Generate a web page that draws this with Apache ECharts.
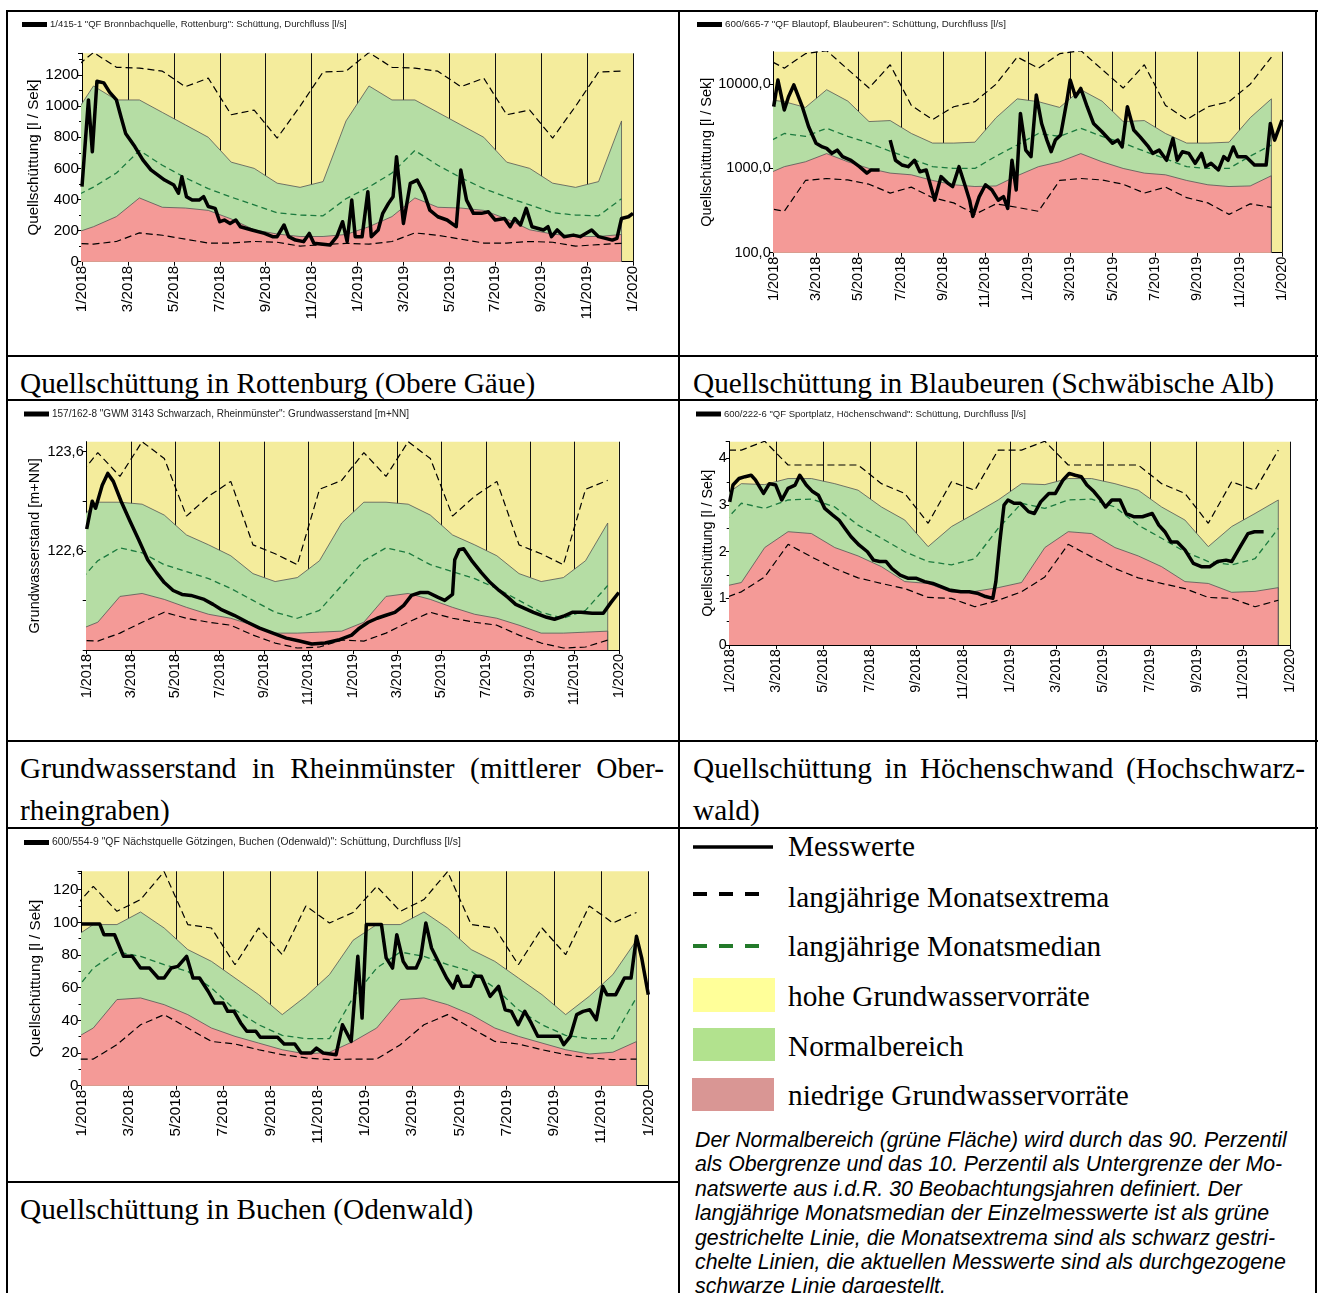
<!DOCTYPE html>
<html>
<head>
<meta charset="utf-8">
<script src="https://cdn.jsdelivr.net/npm/echarts@6.0.0/dist/echarts.min.js"></script>
<style>
  html, body { margin: 0; padding: 0; background: #fff; }
  body { width: 1319px; height: 1293px; position: relative; overflow: hidden; }
  .ln { position: absolute; background: #000; }
  .cap { position: absolute; font-family: "Liberation Serif", "Times New Roman", serif; font-size: 29.3px; color: #000; white-space: nowrap; }
  .just { text-align: justify; text-align-last: justify; white-space: normal; }
  .lg { position: absolute; font-family: "Liberation Serif", "Times New Roman", serif; font-size: 29.3px; color: #000; white-space: nowrap; line-height: 34px; }
  .box { position: absolute; }
  #note { position: absolute; left: 695px; top: 1128px; width: 620px; font-family: "Liberation Sans", Arial, sans-serif; font-style: italic; font-size: 21.3px; line-height: 24.4px; color: #000; white-space: nowrap; }
  #chart { position: absolute; left: 0; top: 0; width: 1319px; height: 1293px; z-index: 2; }
</style>
</head>
<body>
<!-- table frame -->
<div class="ln" style="left:6px;top:10px;width:1312px;height:2px"></div>
<div class="ln" style="left:6px;top:10px;width:2px;height:1283px"></div>
<div class="ln" style="left:1315px;top:10px;width:2px;height:1283px"></div>
<div class="ln" style="left:678px;top:10px;width:2px;height:1283px"></div>
<div class="ln" style="left:6px;top:355px;width:1312px;height:2px"></div>
<div class="ln" style="left:6px;top:399px;width:1312px;height:2px"></div>
<div class="ln" style="left:6px;top:740px;width:1312px;height:2px"></div>
<div class="ln" style="left:6px;top:827px;width:1312px;height:2px"></div>
<div class="ln" style="left:6px;top:1181px;width:674px;height:2px"></div>

<!-- captions -->
<div class="cap" style="left:20px;top:366px;line-height:34px">Quellschüttung in Rottenburg (Obere Gäue)</div>
<div class="cap" style="left:693px;top:366px;line-height:34px">Quellschüttung in Blaubeuren (Schwäbische Alb)</div>
<div class="cap" style="left:20px;top:747px;width:644px;line-height:42px">
  <div class="just">Grundwasserstand in Rheinmünster (mittlerer Ober-</div>
  <div>rheingraben)</div>
</div>
<div class="cap" style="left:693px;top:747px;width:612px;line-height:42px">
  <div class="just">Quellschüttung in Höchenschwand (Hochschwarz-</div>
  <div>wald)</div>
</div>
<div class="cap" style="left:20px;top:1192px;line-height:34px">Quellschüttung in Buchen (Odenwald)</div>

<!-- legend -->
<svg class="box" style="left:690px;top:835px" width="90" height="120">
  <line x1="3" y1="12" x2="83" y2="12" stroke="#000" stroke-width="3.5"/>
  <line x1="3" y1="59" x2="77" y2="59" stroke="#000" stroke-width="4" stroke-dasharray="14 12"/>
  <line x1="3" y1="111" x2="77" y2="111" stroke="#237a2a" stroke-width="4" stroke-dasharray="14 12"/>
</svg>
<div class="lg" style="left:788px;top:829px">Messwerte</div>
<div class="lg" style="left:788px;top:880px">langjährige Monatsextrema</div>
<div class="lg" style="left:788px;top:929px">langjährige Monatsmedian</div>
<div class="box" style="left:693px;top:978px;width:82px;height:34px;background:#ffff99"></div>
<div class="lg" style="left:788px;top:979px">hohe Grundwasservorräte</div>
<div class="box" style="left:693px;top:1028px;width:82px;height:33px;background:#b2e28e"></div>
<div class="lg" style="left:788px;top:1029px">Normalbereich</div>
<div class="box" style="left:692px;top:1078px;width:82px;height:33px;background:#d99694"></div>
<div class="lg" style="left:788px;top:1078px">niedrige Grundwasservorräte</div>

<div id="note">Der Normalbereich (grüne Fläche) wird durch das 90. Perzentil<br>als Obergrenze und das 10. Perzentil als Untergrenze der Mo-<br>natswerte aus i.d.R. 30 Beobachtungsjahren definiert. Der<br>langjährige Monatsmedian der Einzelmesswerte ist als grüne<br>gestrichelte Linie, die Monatsextrema sind als schwarz gestri-<br>chelte Linien, die aktuellen Messwerte sind als durchgezogene<br>schwarze Linie dargestellt.</div>

<div id="chart"></div>

<script>
// long-term monthly statistics (Jan..Dec), repeated for 2018 and 2019
// x values of measurements are months since 1/2018
let rotP90 = [1130, 1040, 1040, 960, 880, 800, 640, 600, 505, 478, 515, 905];
let rotP10 = [225, 290, 410, 350, 345, 330, 275, 205, 178, 162, 162, 175];
let rotMed = [480, 570, 715, 620, 540, 470, 415, 365, 315, 300, 295, 405];
let rotMax = [1345, 1250, 1245, 1225, 1125, 1180, 945, 975, 795, 1000, 1220, 1225];
let rotMin = [113, 130, 185, 170, 145, 120, 120, 130, 125, 100, 110, 118];
let rotMess = [[0, 482], [0.28, 1040], [0.45, 707], [0.65, 1160], [0.95, 1150], [1.2, 1090], [1.5, 1040], [1.7, 930], [1.9, 825],
    [2.3, 740], [2.65, 655], [3.0, 590], [3.6, 525], [4.0, 493], [4.2, 440], [4.35, 546], [4.55, 418], [4.8, 396], [5.1, 396],
    [5.3, 418], [5.5, 355], [5.8, 343], [6.0, 257], [6.2, 268], [6.45, 246], [6.7, 268], [6.9, 225], [7.4, 204], [7.95, 182],
    [8.3, 161], [8.5, 161], [8.8, 236], [9.0, 161], [9.3, 139], [9.65, 129], [9.9, 182], [10.1, 118], [10.8, 107], [11.1, 161],
    [11.35, 257], [11.55, 129], [11.75, 396], [11.9, 161], [12.2, 161], [12.45, 450], [12.6, 161], [12.9, 204], [13.1, 311],
    [13.35, 375], [13.55, 418], [13.7, 675], [14.0, 246], [14.3, 504], [14.6, 525], [14.9, 439], [15.15, 332], [15.5, 289],
    [15.9, 268], [16.3, 225], [16.5, 589], [16.75, 396], [17.05, 311], [17.4, 311], [17.7, 321], [18.0, 268], [18.4, 278],
    [18.65, 225], [18.85, 278], [19.1, 236], [19.35, 343], [19.6, 225], [20.1, 204], [20.3, 225], [20.45, 161], [20.7, 204],
    [21.0, 161], [21.4, 171], [21.7, 161], [22.2, 204], [22.5, 161], [23.1, 139], [23.3, 150], [23.5, 278], [23.8, 289], [24.0, 311]];

let blaP90 = [6200, 5300, 8600, 6300, 3600, 3700, 2600, 2000, 2000, 2050, 4000, 6700];
let blaP10 = [1050, 1200, 1500, 1200, 1000, 880, 840, 720, 640, 610, 620, 820];
let blaMed = [2600, 2400, 3000, 2400, 2000, 1600, 1300, 1050, 1000, 1000, 1400, 1900];
let blaMax = [15500, 23000, 25000, 15000, 9000, 17000, 5600, 3800, 5400, 6200, 10000, 21000];
let blaMin = [310, 720, 760, 730, 650, 510, 600, 450, 390, 285, 380, 345];
let blaMess = [[0, 5420], [0.2, 11200], [0.5, 4950], [0.7, 7100], [0.95, 9800], [1.35, 5400], [1.65, 3130], [2.0, 1990],
    [2.3, 1800], [2.5, 1730], [2.75, 1510], [3.0, 1650], [3.25, 1380], [3.65, 1250], [4.05, 1050], [4.4, 880], [4.6, 960],
    [5.0, 960], [5.2, null], [5.5, 2170], [5.75, 1250], [6.05, 1100], [6.35, 1050], [6.65, 1250], [6.9, 915], [7.2, 960],
    [7.6, 420], [7.9, 800], [8.25, 660], [8.45, 610], [8.75, 1050], [9.05, 610], [9.25, 420], [9.4, 270], [9.7, 460],
    [10.0, 640], [10.3, 556], [10.6, 420], [10.85, 463], [11.05, 336], [11.25, 1250], [11.45, 556], [11.65, 4500],
    [11.9, 1650], [12.15, 1380], [12.4, 7450], [12.65, 3420], [12.9, 2170], [13.1, 1580], [13.3, 2170], [13.55, 2490],
    [13.85, 6490], [14.0, 11200], [14.25, 7100], [14.5, 8900], [14.8, 5400], [15.1, 3420], [15.5, 2730], [16.0, 1990],
    [16.25, 2170], [16.45, 1800], [16.7, 5400], [17.0, 2860], [17.3, 2370], [17.7, 1800], [17.9, 1510], [18.2, 1650],
    [18.55, 1250], [18.85, 2270], [19.05, 1250], [19.3, 1580], [19.6, 1510], [19.9, 1150], [20.2, 1510], [20.4, 1050],
    [20.65, 1150], [21.0, 960], [21.25, 1380], [21.45, 1250], [21.7, 1800], [21.9, 1380], [22.3, 1380], [22.7, 1100],
    [23.25, 1100], [23.45, 3420], [23.65, 2170], [24.0, 3760]];

let rhP90 = [123.09, 123.09, 123.07, 122.96, 122.76, 122.66, 122.55, 122.37, 122.29, 122.33, 122.50, 122.88];
let rhP10 = [121.88, 122.14, 122.17, 122.11, 122.03, 121.96, 121.92, 121.85, 121.77, 121.77, 121.78, 121.79];
let rhMed = [122.50, 122.63, 122.58, 122.46, 122.39, 122.32, 122.22, 122.10, 121.98, 121.92, 122.00, 122.25];
let rhMax = [123.59, 123.35, 123.70, 123.53, 122.95, 123.15, 123.30, 122.66, 122.57, 122.46, 123.22, 123.31];
let rhMin = [121.69, 121.77, 121.88, 121.98, 121.92, 121.88, 121.85, 121.75, 121.67, 121.62, 121.63, 121.70];
let rhMess = [[0, 122.82], [0.25, 123.10], [0.4, 123.03], [0.7, 123.26], [0.95, 123.38], [1.2, 123.30], [1.55, 123.10],
    [1.95, 122.90], [2.35, 122.71], [2.75, 122.51], [3.15, 122.38], [3.5, 122.28], [3.9, 122.20], [4.3, 122.16],
    [4.7, 122.15], [5.3, 122.11], [5.7, 122.06], [6.05, 122.01], [6.65, 121.95], [7.25, 121.88], [7.8, 121.82],
    [8.4, 121.77], [9.0, 121.72], [9.6, 121.69], [10.15, 121.66], [10.75, 121.67], [11.35, 121.70], [11.95, 121.75],
    [12.3, 121.82], [12.7, 121.88], [13.1, 121.92], [13.5, 121.95], [13.9, 121.98], [14.3, 122.05], [14.65, 122.15],
    [15.05, 122.18], [15.4, 122.18], [15.85, 122.13], [16.15, 122.10], [16.5, 122.16], [16.6, 122.51], [16.8, 122.61],
    [17.0, 122.62], [17.4, 122.49], [17.8, 122.38], [18.2, 122.28], [18.6, 122.20], [19.0, 122.13], [19.35, 122.06],
    [19.75, 122.02], [20.15, 121.98], [20.75, 121.93], [21.1, 121.91], [21.5, 121.94], [21.9, 121.98], [22.3, 121.98],
    [22.8, 121.97], [23.3, 121.97], [23.65, 122.08], [24.0, 122.18]];

let hoP90 = [3.46, 3.44, 3.57, 3.57, 3.46, 3.32, 2.96, 2.68, 2.11, 2.54, 2.82, 3.11];
let hoP10 = [1.34, 2.09, 2.43, 2.39, 2.09, 1.91, 1.68, 1.36, 1.32, 1.13, 1.15, 1.23];
let hoMed = [3.04, 2.93, 3.11, 3.13, 2.96, 2.57, 2.29, 2.00, 1.79, 1.72, 1.85, 2.50];
let hoMax = [4.18, 4.37, 3.86, 3.86, 3.86, 3.86, 3.46, 3.25, 2.61, 3.50, 3.32, 4.18];
let hoMin = [1.14, 1.46, 2.16, 1.89, 1.64, 1.44, 1.32, 1.21, 1.02, 1.00, 0.82, 0.96];
let hoMess = [[0, 3.07], [0.14, 3.43], [0.4, 3.57], [0.66, 3.61], [0.92, 3.64], [1.1, 3.54], [1.45, 3.25], [1.7, 3.46],
    [1.97, 3.43], [2.23, 3.11], [2.5, 3.36], [2.8, 3.43], [3.0, 3.64], [3.28, 3.43], [3.55, 3.29], [3.8, 3.21], [4.07, 2.93],
    [4.4, 2.79], [4.68, 2.68], [4.94, 2.5], [5.2, 2.32], [5.55, 2.14], [5.9, 2.0], [6.16, 1.82], [6.42, 1.79], [6.7, 1.79],
    [6.95, 1.64], [7.3, 1.5], [7.65, 1.43], [8.0, 1.43], [8.35, 1.36], [8.7, 1.32], [9.05, 1.25], [9.4, 1.18], [9.9, 1.14],
    [10.26, 1.14], [10.6, 1.11], [10.96, 1.04], [11.27, 1.0], [11.4, 1.36], [11.57, 2.21], [11.75, 3.0], [11.92, 3.11],
    [12.18, 3.04], [12.45, 3.04], [12.8, 2.86], [13.05, 2.82], [13.32, 3.07], [13.67, 3.25], [13.95, 3.25], [14.28, 3.54],
    [14.54, 3.68], [14.8, 3.64], [15.06, 3.61], [15.3, 3.43], [15.6, 3.29], [15.85, 3.14], [16.1, 2.96], [16.37, 3.11],
    [16.72, 3.11], [16.98, 2.82], [17.33, 2.75], [17.68, 2.75], [18.1, 2.82], [18.38, 2.57], [18.64, 2.43], [18.9, 2.21],
    [19.17, 2.21], [19.5, 2.04], [19.86, 1.75], [20.2, 1.68], [20.56, 1.68], [20.9, 1.79], [21.26, 1.82], [21.5, 1.79],
    [21.87, 2.11], [22.2, 2.39], [22.48, 2.43], [22.87, 2.43]];

let buP90 = [98.6, 98.6, 106.3, 96.5, 83.3, 76.1, 65.9, 55.7, 43.5, 54.7, 68.0, 89.0];
let buP10 = [35.3, 52.7, 53.7, 49.6, 43.5, 35.3, 30.2, 26.1, 22.0, 19.4, 20.5, 27.0];
let buMed = [72.0, 81.8, 79.2, 74.1, 70.0, 59.8, 46.5, 37.3, 30.8, 28.8, 28.8, 54.0];
let buMax = [122.0, 106.7, 113.9, 131.0, 98.6, 96.5, 74.0, 96.5, 80.2, 110.0, 99.6, 106.0];
let buMin = [16.3, 25.1, 37.3, 43.5, 35.3, 27.1, 25.5, 22.0, 19.0, 17.0, 16.0, 16.3];
let buMess = [[0, 99], [0.77, 99], [0.95, 92.4], [1.4, 92.4], [1.78, 79.2], [2.15, 79.2], [2.5, 72], [2.88, 72], [3.25, 65.9],
    [3.5, 65.9], [3.8, 72], [4.08, 73], [4.45, 79.2], [4.72, 65.9], [5.0, 65.9], [5.36, 57.8], [5.64, 50.6], [6.0, 50.6],
    [6.19, 45.5], [6.46, 45.5], [6.74, 38.4], [7.0, 33.3], [7.38, 33.3], [7.57, 29.6], [8.3, 29.6], [8.58, 25.5], [9.03, 25.5],
    [9.3, 20], [9.73, 20], [9.95, 23], [10.23, 20], [10.78, 19], [11.05, 37.3], [11.42, 27.1], [11.7, 79.2], [11.88, 41.4],
    [12.06, 98.6], [12.7, 98.6], [12.9, 78.2], [13.17, 72], [13.35, 92.4], [13.62, 76.1], [13.8, 72], [14.17, 72],
    [14.36, 78.2], [14.58, 99.6], [14.82, 84.3], [15.1, 76.1], [15.46, 65.9], [15.74, 59.8], [15.92, 67], [16.1, 60.8],
    [16.47, 60.8], [16.65, 67], [16.93, 67], [17.3, 54.7], [17.66, 60.8], [17.94, 46.5], [18.2, 45.5], [18.49, 37.3],
    [18.77, 45.5], [19.04, 38.4], [19.32, 30.2], [19.78, 30.2], [20.24, 30.2], [20.42, 25.1], [20.7, 30.2], [20.97, 43.5],
    [21.24, 45.5], [21.52, 46.5], [21.8, 40.4], [22.07, 60.8], [22.25, 55.7], [22.62, 55.7], [22.99, 65.9], [23.27, 65.9],
    [23.5, 91.4], [23.72, 78.2], [24.0, 55.7]];

// labelled y values for the Rheinmünster chart
let rhLabels = [122.6, 123.6];

const FONT = "'Liberation Sans', Arial, sans-serif";
const YELLOW = "#f4ec9c", GREEN = "#b5dda4", RED = "#f49a97";

function monthLabel(v) {
    return ((v % 12) + 1) + "/" + (2018 + Math.floor(v / 12));
}

// Dec of the previous year, then Jan..Dec twice, at mid-month
function band(arr, bottom) {
    let out = [[-0.5, arr[11]]];
    for (let y = 0; y < 2; y++) {
        arr.forEach((v, i) => out.push([y * 12 + i + 0.5, v]));
    }
    if (bottom !== undefined) out.push([23.5, bottom]);
    return out;
}

let charts = [
    {
        name: '1/415-1 "QF Bronnbachquelle, Rottenburg": Schüttung, Durchfluss [l/s]',
        grid: {left: 82, top: 53.3, width: 551, height: 208.4},
        legend: {left: 22, top: 19.5, fs: 9.5},
        y: {min: 0, max: 1340, interval: 200, name: "Quellschüttung [l / Sek]", gap: 39.5, fs: 15.2},
        p90: rotP90, p10: rotP10, med: rotMed, max: rotMax, min: rotMin, mess: rotMess
    },
    {
        name: '600/665-7 "QF Blautopf, Blaubeuren": Schüttung, Durchfluss [l/s]',
        grid: {left: 773.7, top: 51.7, width: 508.3, height: 201},
        legend: {left: 697, top: 19.5, fs: 9.8},
        y: {log: true, min: 100, max: 24300, name: "Quellschüttung [l / Sek]", gap: 58.5, fs: 14.5},
        p90: blaP90, p10: blaP10, med: blaMed, max: blaMax, min: blaMin, mess: blaMess
    },
    {
        name: '157/162-8 "GWM 3143 Schwarzach, Rheinmünster": Grundwasserstand [m+NN]',
        grid: {left: 86.7, top: 441.7, width: 532.1, height: 208.3},
        legend: {left: 24, top: 409, fs: 10},
        y: {min: 121.6, max: 123.7, interval: 0.5, only: rhLabels, name: "Grundwasserstand [m+NN]", gap: 44.5, fs: 14.5},
        p90: rhP90, p10: rhP10, med: rhMed, max: rhMax, min: rhMin, mess: rhMess
    },
    {
        name: '600/222-6 "QF Sportplatz, Höchenschwand": Schüttung, Durchfluss [l/s]',
        grid: {left: 729.7, top: 441.7, width: 560.3, height: 203.3},
        legend: {left: 696, top: 409, fs: 9.5},
        y: {min: 0, max: 4.36, interval: 1, name: "Quellschüttung [l / Sek]", gap: 14.5, fs: 14.3},
        p90: hoP90, p10: hoP10, med: hoMed, max: hoMax, min: hoMin, mess: hoMess
    },
    {
        name: '600/554-9 "QF Nächstquelle Götzingen, Buchen (Odenwald)": Schüttung, Durchfluss [l/s]',
        grid: {left: 81.5, top: 871.3, width: 566.8, height: 214.4},
        legend: {left: 24, top: 837.5, fs: 10.4},
        y: {min: 0, max: 131.2, interval: 20, name: "Quellschüttung [l / Sek]", gap: 38, fs: 15.3},
        p90: buP90, p10: buP10, med: buMed, max: buMax, min: buMin, mess: buMess
    }
];

let option = {
    animation: false,
    grid: [], xAxis: [], yAxis: [], legend: [], series: []
};

charts.forEach((c, k) => {
    option.grid.push(Object.assign({
        show: true, backgroundColor: YELLOW, borderWidth: 0
    }, c.grid));
    option.legend.push({
        data: [c.name], left: c.legend.left, top: c.legend.top, padding: 0,
        icon: "rect", itemWidth: 25, itemHeight: 5, selectedMode: false,
        textStyle: {fontSize: c.legend.fs, color: "#222", fontFamily: FONT, padding: [0, 0, 0, -2]}
    });
    option.xAxis.push({
        type: "value", gridIndex: k, min: 0, max: 24, interval: 2,
        axisLine: {show: true, lineStyle: {color: "#000", width: 1}},
        axisTick: {show: true, length: 4, lineStyle: {color: "#000"}},
        axisLabel: {rotate: 90, fontSize: c.y.fs, color: "#000", fontFamily: FONT, margin: 4, formatter: monthLabel},
        splitLine: {show: true, lineStyle: {color: "#111", width: 1}}
    });
    let ya = {
        gridIndex: k, min: c.y.min, max: c.y.max,
        name: c.y.name, nameLocation: "middle", nameGap: c.y.gap,
        nameTextStyle: {fontSize: c.y.fs, color: "#000", fontFamily: FONT},
        axisLine: {show: true, lineStyle: {color: "#000", width: 1}},
        axisTick: {show: true, length: 4, lineStyle: {color: "#000"}},
        splitLine: {show: false},
        axisLabel: {fontSize: c.y.fs, color: "#000", fontFamily: FONT, margin: 3, showMaxLabel: false}
    };
    if (c.y.log) {
        ya.type = "log";
        ya.logBase = 10;
        ya.axisLabel.formatter = v => Math.round(v) + ",0";
    } else {
        ya.type = "value";
        ya.interval = c.y.interval;
        if (c.y.only) {
            ya.axisLabel.formatter = v => c.y.only.some(t => Math.abs(t - v) < 1e-6) ? v.toFixed(1).replace(".", ",") : "";
        } else {
            ya.axisLabel.formatter = v => String(v);
            ya.minorTick = {show: true, splitNumber: 2, length: 3, lineStyle: {color: "#000"}};
        }
    }
    option.yAxis.push(ya);

    let base = {type: "line", xAxisIndex: k, yAxisIndex: k, symbol: "none", silent: true, clip: true};
    let edge = {color: "#555", width: 0.8};
    option.series.push(Object.assign({}, base, {
        name: "p90-" + k, data: band(c.p90, c.y.min),
        lineStyle: edge, areaStyle: {color: GREEN, opacity: 1, origin: "start"}
    }));
    option.series.push(Object.assign({}, base, {
        name: "p10-" + k, data: band(c.p10, c.y.min),
        lineStyle: edge, areaStyle: {color: RED, opacity: 1, origin: "start"}
    }));
    option.series.push(Object.assign({}, base, {
        name: "med-" + k, data: band(c.med),
        lineStyle: {color: "#1b7a3e", width: 1.3, type: [6, 4]}
    }));
    option.series.push(Object.assign({}, base, {
        name: "max-" + k, data: band(c.max),
        lineStyle: {color: "#000", width: 1.2, type: [7, 4]}
    }));
    option.series.push(Object.assign({}, base, {
        name: "min-" + k, data: band(c.min),
        lineStyle: {color: "#000", width: 1.2, type: [7, 4]}
    }));
    option.series.push(Object.assign({}, base, {
        name: c.name, data: c.mess, connectNulls: false, color: "#000",
        lineStyle: {color: "#000", width: 3.5, join: "round"}
    }));
});

let myChart = echarts.init(document.getElementById("chart"), null, {renderer: "canvas"});
myChart.setOption(option);
</script>
</body>
</html>
